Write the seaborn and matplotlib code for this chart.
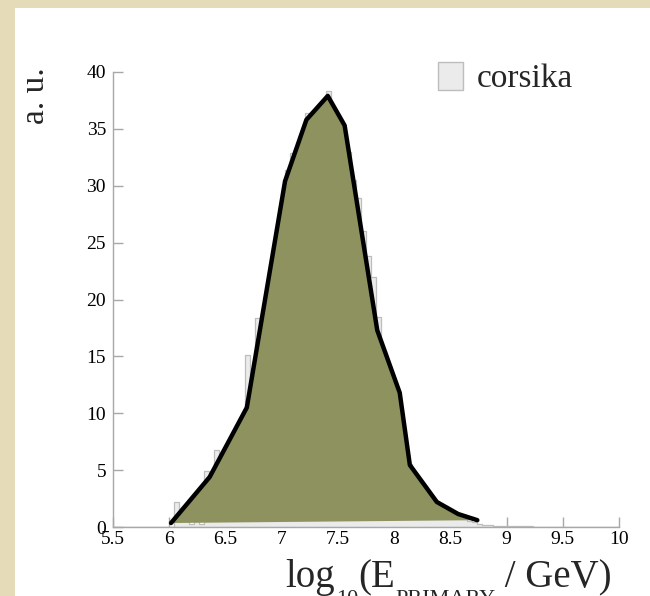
import numpy as np
import pandas as pd
import matplotlib
matplotlib.use("Agg")
import matplotlib.pyplot as plt
from matplotlib.patches import Rectangle, Patch
import seaborn as sns

# ---------------- data ----------------
bin_lo, bin_hi, n_bins = 5.5, 10.0, 100
counts = (
    [0.0] * 12
    + [2.2, 1.0, 1.5, 0.3, 2.5, 0.3, 4.9, 4.2, 6.8, 5.8,
       6.5, 7.5, 8.2, 9.0, 15.1, 12.0, 18.4, 17.0, 19.5, 22.0,
       25.0, 27.5, 31.4, 32.9, 32.5, 34.0, 36.4, 36.0, 36.5, 37.0,
       38.3, 36.0, 35.5, 34.5, 33.0, 30.5, 28.9, 26.0, 23.8, 22.0,
       18.5, 15.5, 14.0, 12.5, 10.0, 7.5, 5.5, 4.5, 4.0, 3.2,
       2.7, 2.2, 1.9, 1.7, 1.4, 1.1, 0.9, 0.7, 0.5, 0.4,
       0.25, 0.2, 0.15, 0.12, 0.1, 0.1, 0.07, 0.06, 0.06, 0.05,
       0.05, 0.04, 0.04, 0.04, 0.03, 0.03, 0.03, 0.03, 0.03]
    + [0.0] * 9
)
line_x = [6.016, 6.36, 6.69, 7.03, 7.22, 7.41, 7.56, 7.85, 8.05, 8.14, 8.38, 8.57, 8.74]
line_y = [0.35, 4.4, 10.5, 30.4, 35.8, 37.9, 35.3, 17.3, 11.8, 5.45, 2.2, 1.14, 0.6]
xticks = [5.5, 6, 6.5, 7, 7.5, 8, 8.5, 9, 9.5, 10]
xtick_labels = ["5.5", "6", "6.5", "7", "7.5", "8", "8.5", "9", "9.5", "10"]
yticks = [0, 5, 10, 15, 20, 25, 30, 35, 40]
legend_label = "corsika"
ylabel_text = "a. u."

# ---------------- style ----------------
sns.set_style("ticks")
plt.rcParams["font.family"] = ["Liberation Serif", "DejaVu Serif"]

W, H = 650, 596
fig = plt.figure(figsize=(W / 100, H / 100), dpi=100)
fig.patch.set_facecolor("#e6dbb9")
fig.patches.append(Rectangle((15 / W, 0), 1 - 15 / W, 1 - 8 / H,
                             transform=fig.transFigure, facecolor="white",
                             edgecolor="none", zorder=-10))

ax = fig.add_axes([113 / W, 1 - 527 / H, (619 - 113) / W, (527 - 72) / H])
ax.patch.set_alpha(0)

width = (bin_hi - bin_lo) / n_bins
centers = [bin_lo + width * (i + 0.5) for i in range(n_bins)]
df = pd.DataFrame({"x": centers, "w": counts})

hist_face, hist_edge = "#ebebeb", "#bdbdbd"
sns.histplot(data=df, x="x", weights="w", bins=n_bins, binrange=(bin_lo, bin_hi),
             element="step", fill=True, ax=ax, color=hist_face,
             edgecolor=hist_edge, linewidth=0.9, alpha=1, zorder=1)
ax.fill(line_x, line_y, color="#8e925f", lw=0, zorder=2)
sns.lineplot(x=line_x, y=line_y, ax=ax, color="black", lw=3.2, sort=False,
             zorder=3, legend=False)

ax.set_xlim(5.5, 10)
ax.set_ylim(0, 40)
ax.set_xticks(xticks)
ax.set_xticklabels(xtick_labels)
ax.set_yticks(yticks)
ax.set_xlabel("")
ax.set_ylabel("")
for s in ["top", "right"]:
    ax.spines[s].set_visible(False)
for s in ["left", "bottom"]:
    ax.spines[s].set_color("#a8a8a8")
    ax.spines[s].set_linewidth(1.0)
    ax.spines[s].set_zorder(4)
ax.tick_params(direction="in", length=7, width=1, color="#a8a8a8",
               labelsize=14, labelcolor="black")
ax.tick_params(axis="y", pad=5)
ax.tick_params(axis="x", pad=3)

handle = Patch(facecolor=hist_face, edgecolor=hist_edge, linewidth=1)
ax.legend([handle], [legend_label], loc="center left",
          bbox_to_anchor=(438 / W, 1 - 78 / H), bbox_transform=fig.transFigure,
          frameon=False, fontsize=24, handlelength=0.75, handleheight=0.9,
          handletextpad=0.42, borderpad=0, borderaxespad=0)

fig.text(35.5 / W, 1 - 96 / H, ylabel_text, rotation=90, fontsize=24,
         ha="center", va="center")

# x label built as main text + lowered subscripts
base_px = H - 587
sub_top_px = H - 590
t1 = fig.text(285 / W, base_px / H, "log", fontsize=28, va="baseline", ha="left")
t2 = ax.annotate("10", xy=(1, sub_top_px), xycoords=(t1, "figure pixels"),
                 xytext=(1, 0), textcoords="offset points",
                 fontsize=16, va="top", ha="left", annotation_clip=False)
t3 = ax.annotate("(E", xy=(1, base_px), xycoords=(t2, "figure pixels"),
                 fontsize=28, va="baseline", ha="left", annotation_clip=False)
t4 = ax.annotate("PRIMARY", xy=(1, sub_top_px), xycoords=(t3, "figure pixels"),
                 fontsize=16, va="top", ha="left", annotation_clip=False)
t5 = ax.annotate(" / GeV)", xy=(1, base_px), xycoords=(t4, "figure pixels"),
                 fontsize=28, va="baseline", ha="left", annotation_clip=False)

fig.savefig("out.png", dpi=100, facecolor=fig.get_facecolor())
